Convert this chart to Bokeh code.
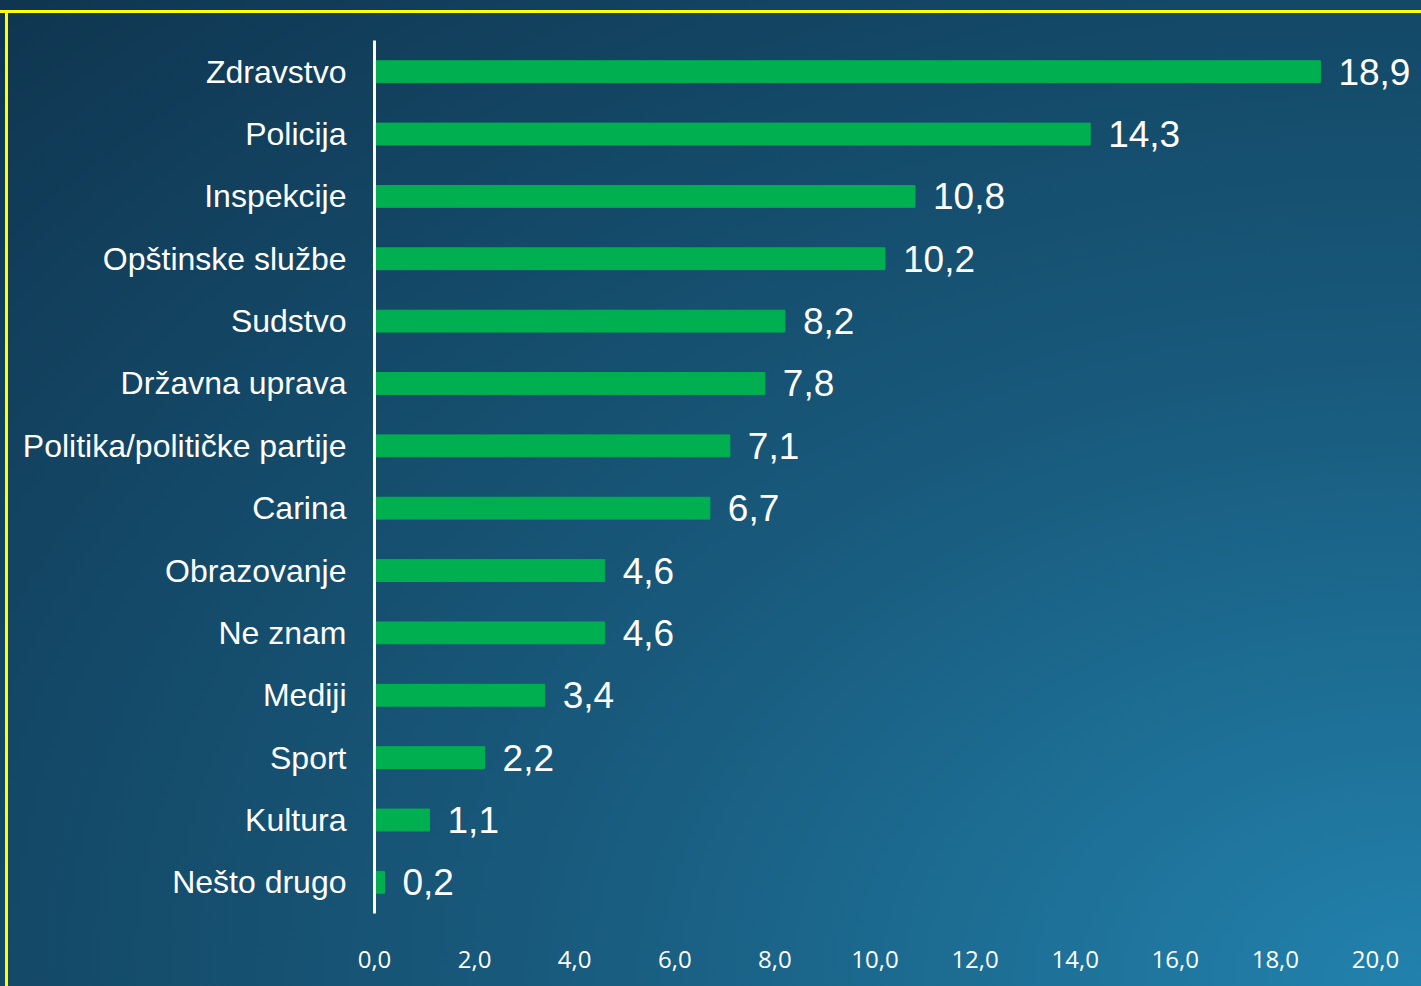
from bokeh.plotting import figure
from bokeh.models import ColumnDataSource, FixedTicker, LabelSet
from bokeh.core.properties import value
from bokeh.embed import file_html
from bokeh.resources import INLINE

categories = ["Zdravstvo", "Policija", "Inspekcije", "Opštinske službe", "Sudstvo",
              "Državna uprava", "Politika/političke partije", "Carina", "Obrazovanje",
              "Ne znam", "Mediji", "Sport", "Kultura", "Nešto drugo"]
values = [18.9, 14.3, 10.8, 10.2, 8.2, 7.8, 7.1, 6.7, 4.6, 4.6, 3.4, 2.2, 1.1, 0.2]
ticks = [0, 2, 4, 6, 8, 10, 12, 14, 16, 18, 20]

labels = [f"{v:.1f}".replace(".", ",") for v in values]
src = ColumnDataSource(dict(cat=categories, val=values, lab=labels))

p = figure(width=1421, height=986, y_range=list(reversed(categories)),
           x_range=(0, 20.92), output_backend="svg", toolbar_location=None,
           min_border_left=374, min_border_right=0, min_border_top=40, min_border_bottom=73)
p.styles = {
    "background-image": ("linear-gradient(#ffff00, #ffff00), linear-gradient(#ffff00, #ffff00), "
                         "radial-gradient(ellipse farthest-corner at 100% 100%, "
                         "#2282ad 0%, #18597b 45%, #0f3550 100%)"),
    "background-size": "100% 3px, 3px 100%, 100% 100%",
    "background-position": "0 10px, 5px 10px, 0 0",
    "background-repeat": "no-repeat",
}
p.background_fill_color = None
p.border_fill_color = None
p.outline_line_color = None
p.grid.grid_line_color = None

p.hbar(y="cat", right="val", height=0.35, left=0, source=src, color="#00B050")

p.add_layout(LabelSet(x="val", y="cat", text="lab", source=src, x_offset=18,
                      text_baseline="middle", text_color="white",
                      text_font=value("Liberation Sans"), text_font_size="37px"))

xa = p.xaxis[0]
xa.ticker = FixedTicker(ticks=ticks)
xa.major_label_overrides = {t: f"{t:.1f}".replace(".", ",") for t in ticks}
xa.axis_line_color = None
xa.major_tick_line_color = None
xa.minor_tick_line_color = None
xa.major_label_standoff = 31
xa.major_label_text_color = "white"
xa.major_label_text_font = "Open Sans"
xa.major_label_text_font_size = "24px"

ya = p.yaxis[0]
ya.axis_line_color = "white"
ya.axis_line_width = 3
ya.major_tick_line_color = None
ya.minor_tick_line_color = None
ya.major_label_standoff = 22
ya.major_label_text_color = "white"
ya.major_label_text_font = "Liberation Sans"
ya.major_label_text_font_size = "32px"

open("out.html", "w").write(file_html(p, INLINE))
